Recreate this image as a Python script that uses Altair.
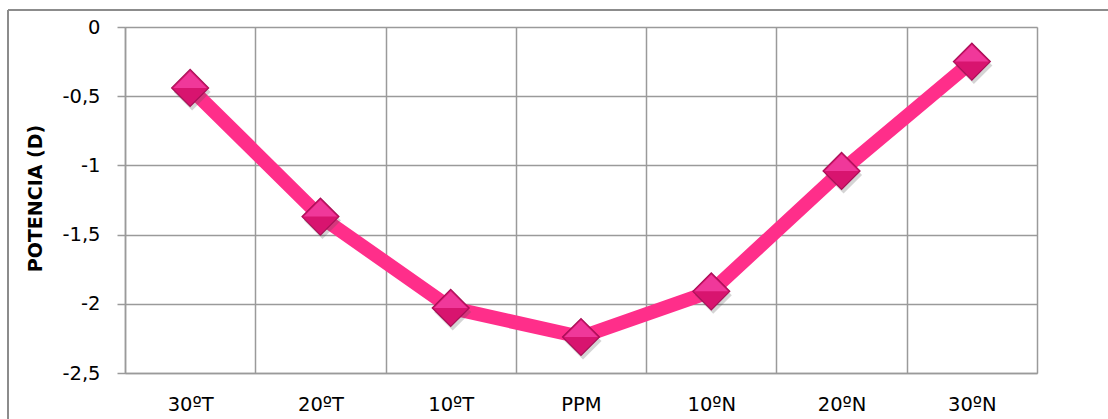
import altair as alt
import pandas as pd

# Power (D) measured at each retinal eccentricity
posiciones = ["30ºT", "20ºT", "10ºT", "PPM", "10ºN", "20ºN", "30ºN"]
potencia = [-0.44, -1.37, -2.03, -2.24, -1.91, -1.04, -0.25]
marcas_y = [0, -0.5, -1, -1.5, -2, -2.5]

df = pd.DataFrame({"pos": posiciones, "pot": potencia})

FONT = "DejaVu Sans"
GRID = "#9a9a9a"
MARKER = 1370

x_enc = alt.X(
    "pos:N",
    sort=posiciones,
    scale=alt.Scale(type="band", paddingInner=0, paddingOuter=0),
    axis=alt.Axis(
        title=None, labelAngle=0, ticks=False, tickBand="extent",
        grid=True, gridColor=GRID, gridWidth=1.5, domainColor=GRID, domainWidth=1.5,
        labelFont=FONT, labelFontSize=19.5, labelColor="#000", labelPadding=22,
    ),
)
y_enc = alt.Y(
    "pot:Q",
    scale=alt.Scale(domain=[-2.5, 0], nice=False, zero=False),
    axis=alt.Axis(
        title="POTENCIA (D)", values=marcas_y,
        labelExpr="replace(toString(datum.value), '.', ',')",
        grid=True, gridColor=GRID, gridWidth=1.5, domainColor=GRID, domainWidth=1.5,
        tickColor=GRID, tickWidth=1.5, tickSize=8,
        labelFont=FONT, labelFontSize=19.5, labelColor="#000", labelPadding=17,
        titleFont=FONT, titleFontSize=19, titleFontWeight="bold", titleColor="#000",
        titleAngle=270, titleAlign="center", titleBaseline="middle",
        titleX=-90, titleY=171,
    ),
)

base = alt.Chart(df).encode(x=x_enc, y=y_enc)

linea = base.mark_line(color="#FF2E8A", strokeWidth=14, strokeJoin="round")

sombra = base.mark_point(
    shape="diamond", filled=True, color="#555", opacity=0.25,
    size=MARKER, xOffset=2, yOffset=4,
)
rombo = base.mark_point(
    shape="diamond", filled=True, fill="#D8146F", stroke="#A80F57",
    strokeWidth=1.2, opacity=1, size=MARKER,
)
mitad_sup = base.mark_point(
    shape="M-0.9,0L0,-0.9L0.9,0Z", filled=True, color="#F0389A",
    opacity=1, size=MARKER,
)

# frame around the whole chart
marco = alt.Chart(df).mark_rule(color="#8c8c8c", strokeWidth=1.5)
borde_sup = marco.encode(x=alt.value(-117), x2=alt.value(1200), y=alt.value(-17))
borde_izq = marco.encode(x=alt.value(-117), y=alt.value(-17), y2=alt.value(500))

chart = alt.layer(
    borde_sup, borde_izq, linea, sombra, rombo, mitad_sup
).properties(
    width=912, height=346,
    autosize=alt.AutoSizeParams(type="none"),
    padding={"left": 125, "top": 27, "right": 71, "bottom": 46},
).configure_view(
    stroke=GRID, strokeWidth=1.5
).configure(background="white")

chart.save("out.html", embed_options={"renderer": "svg", "actions": False})
